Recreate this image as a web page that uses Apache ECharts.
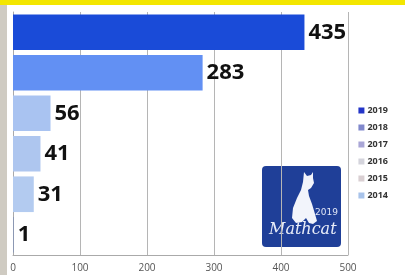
<!DOCTYPE html>
<html>
<head>
<meta charset="utf-8">
<script src="https://cdn.jsdelivr.net/npm/echarts@6/dist/echarts.min.js"></script>
<style>
  html, body { margin: 0; padding: 0; background: #fff; }
  #chart { width: 405px; height: 275px; }
</style>
</head>
<body>
<div id="chart"></div>
<script>
// data
const years = ['2019', '2018', '2017', '2016', '2015', '2014']
const counts = [435, 283, 56, 41, 31, 1]
const xTicks = [0, 100, 200, 300, 400, 500]

// colours
const barColors = ['#1a4bd8', '#6290f3', '#a9c3f1', '#aec6ef', '#b3cbf0', '#7d8fb8']
const legendColors = ['#2335c8', '#8088cc', '#a9a6d6', '#d4d4dc', '#d9cfd2', '#a8c3ea']

const chart = echarts.init(document.getElementById('chart'))

// one series per year so every year gets a legend entry
const series = years.map((y, i) => ({
  name: y,
  type: 'bar',
  stack: 'all',
  barCategoryGap: '12%',
  data: years.map((_, j) => (j === i ? counts[i] : '-')),
  itemStyle: { color: barColors[i] },
  label: {
    show: true,
    position: 'right',
    distance: 4,
    color: '#111',
    fontSize: 22,
    fontWeight: 'bold',
    fontFamily: 'Open Sans'
  }
}))

const option = {
  animation: false,
  backgroundColor: '#fff',
  grid: { left: 13, right: 57, top: 12, bottom: 20 },
  xAxis: {
    type: 'value',
    min: xTicks[0],
    max: xTicks[xTicks.length - 1],
    interval: 100,
    axisLine: { show: true, lineStyle: { color: '#aaa' } },
    axisTick: { show: false },
    axisLabel: { color: '#555', fontSize: 10, fontFamily: 'Open Sans', margin: 8 },
    splitLine: { show: true, lineStyle: { color: '#b5b5b5', width: 1 } }
  },
  yAxis: {
    type: 'category',
    inverse: true,
    data: years,
    axisLine: { show: true, lineStyle: { color: '#aaa' } },
    axisTick: { show: false },
    axisLabel: { show: false }
  },
  legend: {
    orient: 'vertical',
    right: 12,
    top: 101,
    itemWidth: 6,
    itemHeight: 6,
    itemGap: 8,
    icon: 'rect',
    textStyle: { fontSize: 9, fontWeight: 'bold', color: '#333', fontFamily: 'Open Sans', padding: [0, 0, 0, -2] },
    data: years.map((y, i) => ({ name: y, itemStyle: { color: legendColors[i] } }))
  },
  graphic: [
    // yellow strip on top, grey strip on the left (photo frame)
    { type: 'rect', x: 0, y: 0, shape: { width: 405, height: 5 }, style: { fill: '#f3e600' }, z: 100 },
    { type: 'rect', x: 0, y: 5, shape: { width: 7, height: 270 }, style: { fill: '#cfcbc2' }, z: 100 },
    // logo
    {
      type: 'group',
      x: 262,
      y: 166,
      z: 100,
      children: [
        { type: 'rect', shape: { width: 79, height: 81, r: 4 }, style: { fill: '#1f3f98' } },
        {
          type: 'polygon',
          shape: {
            points: [[42, 6], [45, 10], [49, 9], [51, 6], [51, 12], [52, 17], [49, 22], [46, 24],
              [47, 30], [50, 38], [53, 48], [55, 55], [51, 58], [47, 57], [44, 52], [40, 56],
              [34, 57], [30, 52], [31, 42], [35, 32], [39, 24], [41, 16]]
          },
          style: { fill: '#f2f4fb' }
        },
        { type: 'text', x: 53, y: 42, style: { text: '2019', fill: '#dfe5f6', fontSize: 9, fontFamily: 'DejaVu Sans' } },
        { type: 'text', x: 7, y: 56, style: { text: 'Mathcat', fill: '#e8ecf8', fontSize: 16, fontStyle: 'italic', fontFamily: 'DejaVu Serif' } }
      ]
    }
  ],
  series
}

chart.setOption(option)
</script>
</body>
</html>
